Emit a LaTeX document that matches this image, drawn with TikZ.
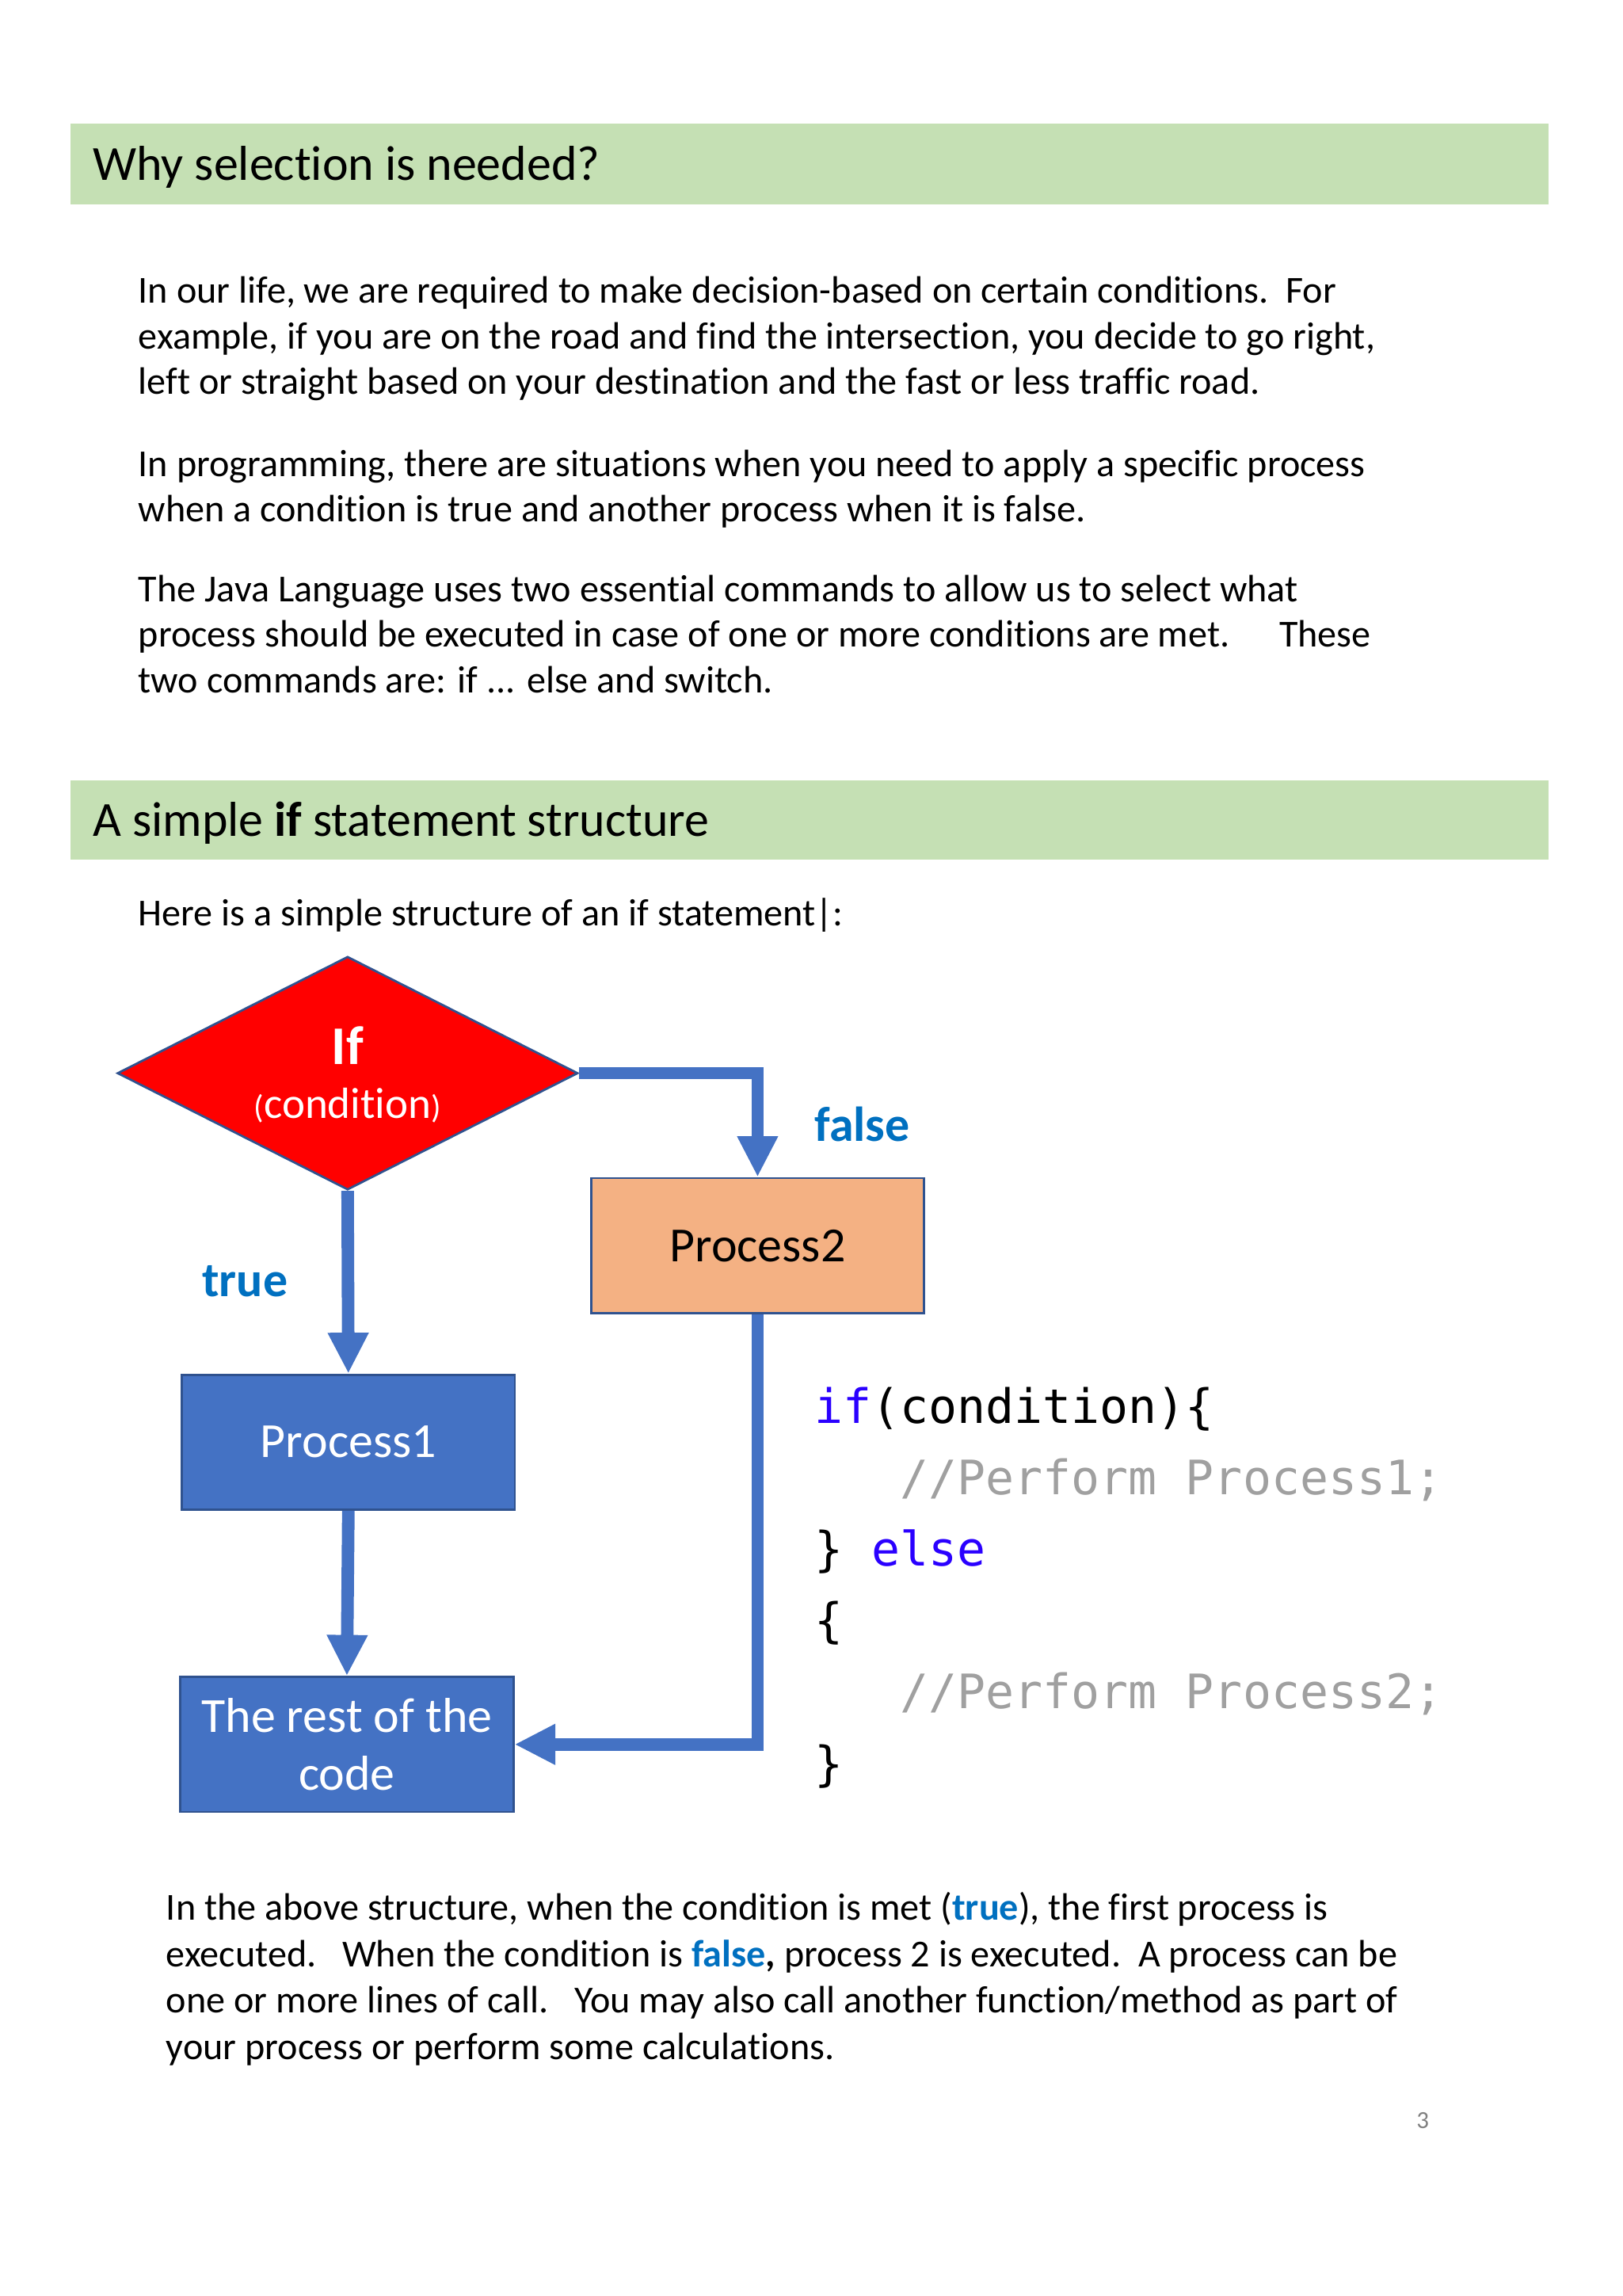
\documentclass[tikz,border=0pt]{standalone}
\usepackage{fontspec}
\setmainfont{Carlito}[Ligatures=NoCommon]
\newfontfamily\codefont{DejaVu Sans Mono}
\usetikzlibrary{shapes.geometric,arrows.meta}
\definecolor{barGreen}{HTML}{C5E0B4}
\definecolor{blueFill}{HTML}{4472C4}
\definecolor{boxBorder}{HTML}{2F528F}
\definecolor{orangeFill}{HTML}{F4B183}
\definecolor{lblBlue}{HTML}{0070C0}
\definecolor{kwBlue}{HTML}{2A00FF}
\definecolor{cmtGray}{HTML}{A0A0A0}
\begin{document}
\begin{tikzpicture}[x=0.53823pt,y=-0.53823pt,
  body/.style={anchor=base west, inner sep=0pt, font=\fontsize{14}{17}\selectfont},
  head/.style={anchor=base west, inner sep=0pt, font=\fontsize{18}{22}\selectfont},
  procbox/.style={rectangle, draw=boxBorder, line width=0.8pt, minimum width=122.2pt, minimum height=49.5pt, inner sep=0pt, font=\fontsize{18}{21}\selectfont},
  arr/.style={draw=blueFill, line width=4.6pt, line join=miter, -{Triangle[length=15pt,width=14pt]}},
  lbl/.style={anchor=base west, inner sep=0pt, text=lblBlue, font=\bfseries\fontsize{18}{21}\selectfont},
  codeline/.style={anchor=base west, inner sep=0pt, font=\codefont\fontsize{17.4}{20}\selectfont}]
\useasboundingbox (0,0) rectangle (1106,1565);
% heading bars
\fill[barGreen] (48,84.5) rectangle (1056,139.5);
\fill[barGreen] (48,532) rectangle (1056,586);
\node[head] (h1) at (63,123) {Why selection is needed?};
\node[head] (h2) at (63,570) {A simple \textbf{if} statement structure};
% paragraphs
\node[body] (l1) at (94,206.5) {In our life, we are required to make decision-based on certain conditions.\ \ For};
\node[body] (l2) at (94,237.7) {example, if you are on the road and find the intersection, you decide to go right,};
\node[body] (l3) at (94,268.8) {left or straight based on your destination and the fast or less traffic road.};
\node[body] (l4) at (94,324.7) {In programming, there are situations when you need to apply a specific process};
\node[body] (l5) at (94,355.8) {when a condition is true and another process when it is false.};
\node[body] (l6) at (94,410) {The Java Language uses two essential commands to allow us to select what};
\node[body] (l7) at (94,441) {process should be executed in case of one or more conditions are met.\hspace{1.3em}These};
\node[body] (l8) at (94,472) {two commands are: if ... else and switch.};
\node[body] (l9) at (94,631) {Here is a simple structure of an if statement|:};
% flowchart
\node[diamond, draw=boxBorder, fill=red, line width=0.8pt, minimum width=169pt, minimum height=85.6pt, inner sep=0pt] (dia) at (237,731.5) {};
\node[anchor=base, inner sep=0pt, text=white, font=\bfseries\fontsize{20}{24}\selectfont] (iftxt) at (237,725.5) {If};
\node[anchor=base, inner sep=0pt, text=white, font=\fontsize{16}{18}\selectfont] (condtxt) at (237,762.5) {{\fontsize{12}{14}\selectfont(}condition{\fontsize{12}{14}\selectfont)}};
\node[procbox, fill=orangeFill] (p2) at (516.5,849) {Process2};
\node[procbox, fill=blueFill, text=white] (p1) at (237.5,983) {Process1};
\node[procbox, fill=blueFill, text=white, align=center] (rest) at (236.5,1189) {The rest of the\\code};
\draw[arr] (dia.east) -| (p2.north);
\draw[arr] (dia.south) -- (p1.north);
\draw[arr] (p1.south) -- (rest.north);
\draw[arr] (p2.south) |- (rest.east);
\node[lbl] (lfalse) at (555,778) {false};
\node[lbl] (ltrue) at (137.5,884) {true};
% code
\node[codeline] (c1) at (555,970) {\textcolor{kwBlue}{if}(condition)\{};
\node[codeline, text=cmtGray] (c2) at (555,1018.7) {\ \ \ //Perform Process1;};
\node[codeline] (c3) at (555,1067.4) {\}\ \textcolor{kwBlue}{else}};
\node[codeline] (c4) at (555,1116) {\{};
\node[codeline, text=cmtGray] (c5) at (555,1164.8) {\ \ \ //Perform Process2;};
\node[codeline] (c6) at (555,1213.5) {\}};
% bottom paragraph
\node[body] (b1) at (113,1308.5) {In the above structure, when the condition is met (\textcolor{lblBlue}{\textbf{true}}), the first process is};
\node[body] (b2) at (113,1340.5) {executed.\ \ \ When the condition is \textcolor{lblBlue}{\textbf{false}}\textbf{,} process 2 is executed.\ \ A process can be};
\node[body] (b3) at (113,1372) {one or more lines of call.\ \ \ You may also call another function/method as part of};
\node[body] (b4) at (113,1404) {your process or perform some calculations.};
\node[anchor=base, inner sep=0pt, text=gray, font=\fontsize{9}{10}\selectfont] (pg) at (970,1451) {3};
\end{tikzpicture}
\end{document}
